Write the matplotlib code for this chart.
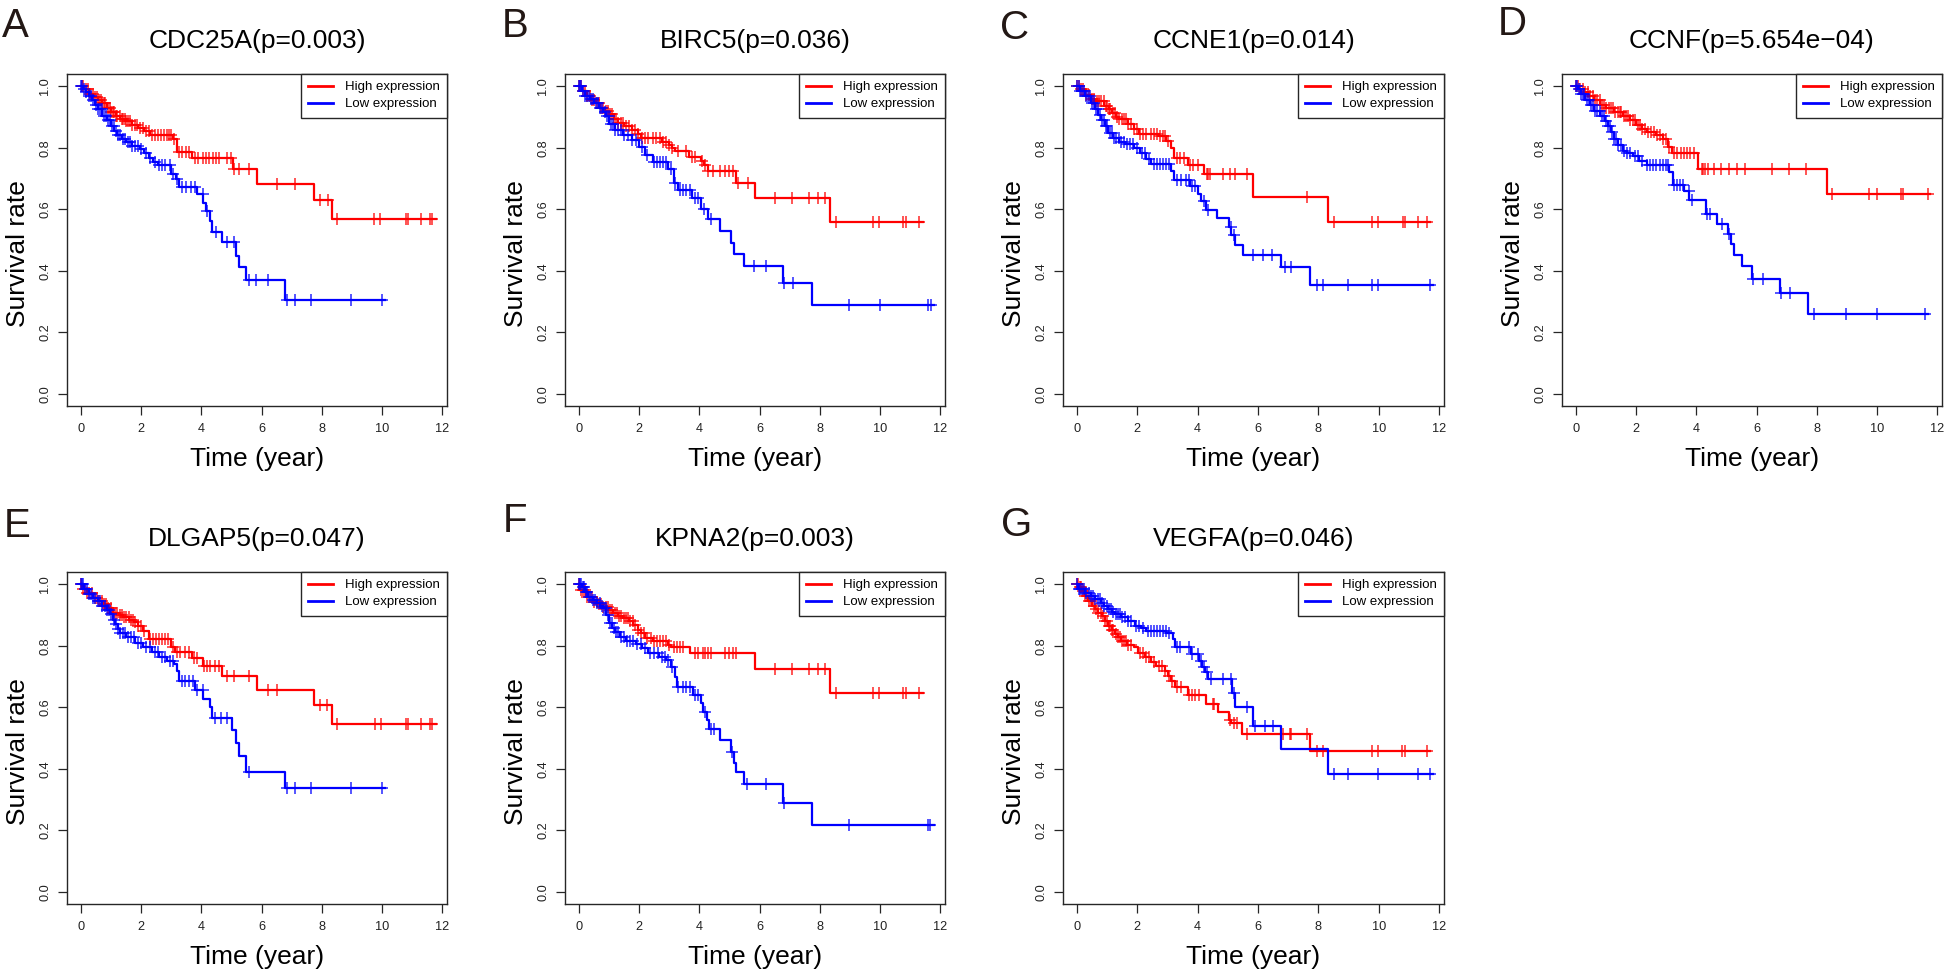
import numpy as np
import matplotlib
matplotlib.use("Agg")
import matplotlib.pyplot as plt

plt.rcParams['font.family'] = ['Liberation Sans', 'DejaVu Sans']

# ---------------- data ----------------
panel_letters = ["A", "B", "C", "D", "E", "F", "G"]
genes = ["CDC25A", "BIRC5", "CCNE1", "CCNF", "DLGAP5", "KPNA2", "VEGFA"]
pvalues = ["0.003", "0.036", "0.014", "5.654e\u221204", "0.047", "0.003", "0.046"]
legend_labels = ["High expression", "Low expression"]
x_ticks = [0, 2, 4, 6, 8, 10, 12]
y_ticks = [0.0, 0.2, 0.4, 0.6, 0.8, 1.0]
y_tick_labels = ["0.0", "0.2", "0.4", "0.6", "0.8", "1.0"]

# Panel A: CDC25A
a_high_t = [0, 0.1, 0.25, 0.4, 0.55, 0.7, 0.85, 1.0, 1.15, 1.3, 1.5, 1.7, 1.9, 2.1, 2.3, 3.05, 3.2, 3.7, 5.05, 5.85, 7.73, 8.34, 11.8]
a_high_s = [1.0, 0.99, 0.975, 0.965, 0.955, 0.945, 0.93, 0.915, 0.905, 0.895, 0.887, 0.875, 0.865, 0.855, 0.843, 0.83, 0.787, 0.766, 0.73, 0.683, 0.629, 0.567, 0.567]
a_high_c = [0.02, 0.08, 0.15, 0.22, 0.3, 0.38, 0.45, 0.52, 0.58, 0.65, 0.7, 0.75, 0.8, 0.88, 0.95, 1.0, 1.05, 1.1, 1.15, 1.2, 1.28, 1.35, 1.4, 1.45, 1.5, 1.55, 1.62, 1.7, 1.78, 1.85, 1.95, 2.05, 2.15, 2.25, 2.35, 2.45, 2.55, 2.65, 2.75, 2.85, 2.92, 3.0, 3.1, 3.25, 3.35, 3.5, 3.6, 3.8, 3.9, 4.05, 4.15, 4.25, 4.4, 4.5, 4.6, 4.85, 5.0, 5.1, 5.25, 5.6, 6.5, 7.1, 7.95, 8.2, 8.52, 9.75, 9.95, 10.8, 10.88, 11.3, 11.6, 11.68]
a_low_t = [0, 0.05, 0.15, 0.25, 0.35, 0.45, 0.55, 0.7, 0.85, 1.0, 1.1, 1.2, 1.35, 1.5, 1.7, 1.95, 2.1, 2.25, 2.4, 2.55, 3.0, 3.15, 3.25, 3.85, 4.07, 4.15, 4.28, 4.34, 4.67, 5.15, 5.24, 5.5, 6.78, 10.1]
a_low_s = [1.0, 0.99, 0.98, 0.97, 0.955, 0.94, 0.925, 0.905, 0.89, 0.87, 0.855, 0.84, 0.83, 0.818, 0.806, 0.795, 0.782, 0.768, 0.755, 0.744, 0.715, 0.70, 0.674, 0.65, 0.62, 0.594, 0.561, 0.527, 0.492, 0.448, 0.411, 0.37, 0.306, 0.306]
a_low_c = [0.0, 0.04, 0.1, 0.18, 0.26, 0.32, 0.4, 0.48, 0.55, 0.62, 0.68, 0.75, 0.82, 0.9, 0.95, 1.02, 1.08, 1.15, 1.22, 1.3, 1.38, 1.45, 1.55, 1.62, 1.7, 1.8, 1.9, 2.0, 2.15, 2.3, 2.45, 2.6, 2.7, 2.8, 2.95, 3.05, 3.2, 3.35, 3.5, 3.65, 3.8, 4.05, 4.2, 4.5, 4.85, 5.1, 5.6, 5.83, 6.2, 6.85, 7.11, 7.64, 8.97, 9.99]

# Panel B: BIRC5
b_high_t = [0, 0.1, 0.25, 0.4, 0.55, 0.7, 0.85, 1.0, 1.15, 1.3, 1.5, 1.75, 1.95, 2.05, 2.75, 3.0, 3.1, 3.2, 3.65, 4.05, 4.17, 4.28, 5.22, 5.86, 8.33, 11.42]
b_high_s = [1.0, 0.985, 0.97, 0.955, 0.945, 0.93, 0.92, 0.91, 0.895, 0.88, 0.87, 0.857, 0.845, 0.832, 0.82, 0.81, 0.80, 0.79, 0.77, 0.757, 0.745, 0.725, 0.687, 0.638, 0.558, 0.558]
b_high_c = [0.0, 0.06, 0.12, 0.2, 0.28, 0.35, 0.42, 0.5, 0.58, 0.65, 0.72, 0.8, 0.88, 0.95, 1.02, 1.08, 1.15, 1.22, 1.3, 1.38, 1.45, 1.55, 1.65, 1.75, 1.85, 1.95, 2.1, 2.2, 2.3, 2.45, 2.55, 2.7, 2.8, 2.9, 3.0, 3.1, 3.3, 3.55, 3.75, 3.85, 4.1, 4.2, 4.3, 4.45, 4.67, 4.85, 5.0, 5.11, 5.3, 5.61, 6.5, 7.09, 7.66, 7.94, 8.19, 8.55, 9.76, 9.96, 10.78, 10.87, 11.31]
b_low_t = [0, 0.1, 0.2, 0.35, 0.5, 0.65, 0.8, 0.9, 1.0, 1.2, 1.45, 1.75, 2.0, 2.2, 2.45, 2.95, 3.15, 3.3, 3.75, 4.05, 4.3, 4.67, 5.04, 5.15, 5.48, 6.78, 7.74, 11.81]
b_low_s = [1.0, 0.985, 0.97, 0.96, 0.945, 0.93, 0.915, 0.905, 0.878, 0.857, 0.841, 0.825, 0.803, 0.776, 0.753, 0.73, 0.685, 0.663, 0.637, 0.602, 0.567, 0.529, 0.491, 0.454, 0.414, 0.36, 0.289, 0.289]
b_low_c = [0.0, 0.03, 0.08, 0.14, 0.2, 0.27, 0.33, 0.4, 0.47, 0.55, 0.62, 0.7, 0.77, 0.85, 0.92, 0.98, 1.05, 1.12, 1.2, 1.28, 1.38, 1.5, 1.62, 1.75, 1.9, 2.1, 2.25, 2.5, 2.6, 2.7, 2.8, 2.9, 3.05, 3.2, 3.35, 3.45, 3.55, 3.7, 3.85, 3.95, 4.15, 4.4, 5.83, 6.2, 6.83, 7.13, 8.97, 9.99, 11.59, 11.7]

# Panel C: CCNE1
c_high_t = [0, 0.1, 0.25, 0.45, 0.6, 0.9, 1.05, 1.15, 1.3, 1.4, 1.7, 1.9, 2.05, 2.7, 2.95, 3.1, 3.22, 3.68, 4.22, 5.84, 8.33, 11.7]
c_high_s = [1.0, 0.99, 0.973, 0.96, 0.951, 0.935, 0.925, 0.914, 0.9, 0.892, 0.876, 0.86, 0.846, 0.838, 0.822, 0.80, 0.768, 0.744, 0.714, 0.639, 0.559, 0.559]
c_high_c = [0.0, 0.05, 0.12, 0.2, 0.3, 0.38, 0.48, 0.55, 0.65, 0.72, 0.8, 0.88, 0.95, 1.0, 1.05, 1.1, 1.18, 1.25, 1.32, 1.4, 1.48, 1.55, 1.62, 1.7, 1.8, 1.9, 2.0, 2.1, 2.2, 2.3, 2.45, 2.55, 2.65, 2.75, 2.85, 2.92, 3.0, 3.3, 3.4, 3.55, 3.75, 3.85, 4.0, 4.3, 4.35, 4.42, 4.85, 5.07, 5.23, 5.62, 7.64, 8.53, 9.77, 9.99, 10.8, 10.87, 11.29, 11.59]
c_low_t = [0, 0.1, 0.25, 0.45, 0.6, 0.7, 0.8, 0.92, 1.03, 1.2, 1.4, 1.6, 1.9, 2.1, 2.3, 2.45, 3.1, 3.22, 3.75, 4.0, 4.12, 4.28, 4.65, 5.05, 5.12, 5.23, 5.49, 6.76, 7.72, 11.81]
c_low_s = [1.0, 0.985, 0.968, 0.946, 0.925, 0.908, 0.89, 0.87, 0.849, 0.833, 0.82, 0.811, 0.80, 0.784, 0.763, 0.746, 0.725, 0.695, 0.676, 0.649, 0.626, 0.599, 0.572, 0.542, 0.515, 0.484, 0.452, 0.412, 0.353, 0.353]
c_low_c = [0.0, 0.05, 0.1, 0.16, 0.22, 0.3, 0.36, 0.42, 0.5, 0.56, 0.62, 0.68, 0.75, 0.82, 0.88, 0.95, 1.0, 1.08, 1.15, 1.22, 1.3, 1.38, 1.45, 1.55, 1.65, 1.75, 1.85, 2.0, 2.15, 2.25, 2.4, 2.55, 2.65, 2.75, 2.85, 2.95, 3.05, 3.3, 3.45, 3.6, 3.7, 3.82, 3.92, 4.2, 4.35, 5.1, 5.2, 5.84, 6.17, 6.45, 6.89, 7.11, 7.94, 8.16, 8.97, 9.77, 9.99, 11.7]

# Panel D: CCNF
d_high_t = [0, 0.1, 0.25, 0.4, 0.6, 0.8, 1.0, 1.25, 1.55, 1.8, 2.0, 2.2, 2.35, 2.65, 2.9, 3.05, 3.18, 4.07, 8.33, 11.76]
d_high_s = [1.0, 0.99, 0.98, 0.968, 0.955, 0.938, 0.928, 0.916, 0.905, 0.889, 0.873, 0.862, 0.852, 0.841, 0.83, 0.803, 0.782, 0.731, 0.649, 0.649]
d_high_c = [0.0, 0.06, 0.14, 0.22, 0.3, 0.38, 0.46, 0.55, 0.62, 0.7, 0.78, 0.85, 0.92, 1.0, 1.08, 1.15, 1.22, 1.3, 1.38, 1.45, 1.5, 1.58, 1.65, 1.72, 1.8, 1.88, 1.95, 2.05, 2.12, 2.2, 2.3, 2.4, 2.5, 2.6, 2.7, 2.8, 2.9, 3.0, 3.1, 3.25, 3.35, 3.5, 3.6, 3.7, 3.8, 3.92, 4.18, 4.22, 4.3, 4.4, 4.57, 4.81, 5.07, 5.34, 5.62, 6.5, 7.09, 7.64, 8.52, 9.75, 9.99, 10.79, 10.87, 11.7]
d_low_t = [0, 0.05, 0.15, 0.3, 0.45, 0.6, 0.8, 0.95, 1.05, 1.15, 1.25, 1.4, 1.55, 1.7, 1.9, 2.1, 2.35, 3.1, 3.22, 3.6, 3.77, 4.31, 4.68, 5.05, 5.15, 5.25, 5.51, 5.86, 6.78, 7.72, 11.7]
d_low_s = [1.0, 0.99, 0.975, 0.955, 0.94, 0.921, 0.905, 0.888, 0.87, 0.85, 0.83, 0.81, 0.79, 0.782, 0.774, 0.757, 0.744, 0.72, 0.68, 0.658, 0.631, 0.583, 0.551, 0.518, 0.486, 0.451, 0.414, 0.373, 0.327, 0.26, 0.26]
d_low_c = [0.0, 0.04, 0.1, 0.16, 0.22, 0.28, 0.35, 0.42, 0.5, 0.55, 0.62, 0.7, 0.78, 0.85, 0.92, 1.0, 1.05, 1.12, 1.18, 1.25, 1.32, 1.4, 1.48, 1.6, 1.7, 1.8, 1.95, 2.05, 2.2, 2.35, 2.45, 2.55, 2.65, 2.8, 2.9, 3.0, 3.05, 3.25, 3.35, 3.45, 3.55, 3.75, 3.85, 4.35, 4.45, 4.85, 5.1, 5.87, 6.2, 6.83, 7.11, 7.92, 8.97, 9.99, 11.59]

# Panel E: DLGAP5
e_high_t = [0, 0.02, 0.2, 0.4, 0.6, 0.75, 0.9, 1.05, 1.25, 1.4, 1.6, 1.75, 1.9, 2.05, 2.25, 3.0, 3.12, 3.68, 4.06, 4.67, 5.85, 7.73, 8.34, 11.81]
e_high_s = [1.0, 0.985, 0.972, 0.957, 0.945, 0.935, 0.922, 0.908, 0.9, 0.892, 0.884, 0.876, 0.864, 0.849, 0.822, 0.795, 0.781, 0.759, 0.735, 0.701, 0.657, 0.606, 0.544, 0.544]
e_high_c = [0.0, 0.06, 0.12, 0.2, 0.28, 0.36, 0.45, 0.52, 0.6, 0.68, 0.75, 0.82, 0.9, 0.98, 1.05, 1.12, 1.2, 1.28, 1.35, 1.42, 1.5, 1.58, 1.65, 1.72, 1.8, 1.9, 2.0, 2.1, 2.3, 2.4, 2.5, 2.6, 2.7, 2.8, 2.9, 3.05, 3.2, 3.3, 3.45, 3.6, 3.75, 3.85, 4.1, 4.2, 4.3, 4.45, 4.6, 4.85, 5.1, 5.6, 6.2, 6.5, 7.95, 8.18, 8.52, 9.76, 9.96, 10.79, 10.87, 11.29, 11.59, 11.67]
e_low_t = [0, 0.1, 0.25, 0.4, 0.55, 0.7, 0.85, 0.96, 1.05, 1.13, 1.22, 1.3, 1.5, 1.8, 2.05, 2.35, 2.6, 2.85, 3.1, 3.18, 3.25, 3.79, 4.06, 4.28, 4.34, 5.03, 5.14, 5.25, 5.5, 6.78, 10.1]
e_low_s = [1.0, 0.985, 0.97, 0.957, 0.945, 0.93, 0.915, 0.903, 0.885, 0.87, 0.855, 0.843, 0.827, 0.808, 0.795, 0.779, 0.762, 0.752, 0.741, 0.719, 0.685, 0.657, 0.627, 0.6, 0.565, 0.525, 0.484, 0.441, 0.39, 0.336, 0.336]
e_low_c = [0.0, 0.03, 0.08, 0.14, 0.2, 0.26, 0.32, 0.4, 0.47, 0.55, 0.62, 0.7, 0.78, 0.85, 0.92, 1.0, 1.08, 1.15, 1.22, 1.3, 1.38, 1.45, 1.55, 1.65, 1.75, 1.9, 2.0, 2.15, 2.3, 2.45, 2.55, 2.7, 2.8, 2.95, 3.05, 3.35, 3.45, 3.6, 3.72, 3.85, 4.05, 4.45, 4.65, 4.85, 5.6, 6.85, 7.11, 7.64, 8.97, 9.99]

# Panel F: KPNA2
f_high_t = [0, 0.01, 0.24, 0.47, 0.65, 0.8, 1.0, 1.13, 1.3, 1.46, 1.65, 1.79, 1.95, 2.05, 2.2, 2.45, 2.95, 3.07, 3.68, 5.86, 8.33, 11.42]
f_high_s = [1.0, 0.982, 0.96, 0.944, 0.935, 0.925, 0.915, 0.906, 0.898, 0.89, 0.88, 0.868, 0.85, 0.84, 0.824, 0.814, 0.803, 0.795, 0.776, 0.726, 0.646, 0.646]
f_high_c = [0.0, 0.05, 0.12, 0.2, 0.28, 0.35, 0.42, 0.5, 0.58, 0.65, 0.72, 0.8, 0.88, 0.95, 1.02, 1.1, 1.18, 1.25, 1.32, 1.4, 1.48, 1.55, 1.62, 1.7, 1.78, 1.85, 1.95, 2.05, 2.15, 2.25, 2.4, 2.5, 2.6, 2.7, 2.8, 2.9, 3.0, 3.15, 3.25, 3.35, 3.45, 3.84, 3.95, 4.12, 4.2, 4.3, 4.4, 4.84, 5.0, 5.11, 5.22, 6.5, 7.09, 7.66, 7.94, 8.19, 8.55, 9.76, 9.96, 10.78, 10.87, 11.31]
f_low_t = [0, 0.1, 0.2, 0.3, 0.45, 0.58, 0.7, 0.8, 0.91, 1.0, 1.1, 1.18, 1.35, 1.55, 1.9, 2.1, 2.3, 2.65, 2.9, 3.05, 3.18, 3.25, 3.79, 4.06, 4.12, 4.25, 4.33, 4.67, 5.04, 5.15, 5.23, 5.48, 6.78, 7.74, 11.81]
f_low_s = [1.0, 0.99, 0.975, 0.96, 0.948, 0.938, 0.93, 0.922, 0.9, 0.873, 0.858, 0.845, 0.83, 0.817, 0.806, 0.792, 0.776, 0.765, 0.754, 0.732, 0.7, 0.665, 0.64, 0.613, 0.586, 0.559, 0.529, 0.494, 0.456, 0.42, 0.388, 0.35, 0.29, 0.218, 0.218]
f_low_c = [0.0, 0.03, 0.07, 0.12, 0.17, 0.22, 0.28, 0.34, 0.4, 0.46, 0.52, 0.6, 0.68, 0.75, 0.82, 0.9, 0.95, 1.02, 1.08, 1.15, 1.22, 1.3, 1.4, 1.5, 1.6, 1.7, 1.8, 1.92, 2.05, 2.2, 2.35, 2.5, 2.62, 2.75, 2.85, 2.95, 3.1, 3.3, 3.45, 3.55, 3.7, 3.85, 3.95, 4.2, 4.4, 4.5, 5.1, 5.6, 6.22, 6.83, 8.97, 11.59, 11.68]

# Panel G: VEGFA
g_high_t = [0, 0.05, 0.14, 0.25, 0.37, 0.5, 0.59, 0.7, 0.81, 0.92, 1.03, 1.15, 1.25, 1.35, 1.47, 1.65, 1.9, 2.02, 2.25, 2.45, 2.63, 2.9, 3.02, 3.13, 3.24, 3.68, 4.27, 4.68, 5.03, 5.1, 5.48, 7.72, 11.7]
g_high_s = [1.0, 0.99, 0.978, 0.962, 0.946, 0.93, 0.919, 0.908, 0.897, 0.88, 0.865, 0.85, 0.838, 0.827, 0.816, 0.803, 0.795, 0.775, 0.762, 0.746, 0.735, 0.719, 0.703, 0.686, 0.665, 0.641, 0.611, 0.584, 0.557, 0.55, 0.514, 0.457, 0.457]
g_high_c = [0.0, 0.03, 0.08, 0.13, 0.2, 0.26, 0.32, 0.4, 0.47, 0.55, 0.62, 0.7, 0.78, 0.85, 0.92, 0.98, 1.05, 1.1, 1.15, 1.2, 1.28, 1.35, 1.42, 1.5, 1.55, 1.62, 1.7, 1.8, 2.1, 2.2, 2.3, 2.4, 2.55, 2.7, 2.8, 2.9, 3.05, 3.15, 3.3, 3.45, 3.7, 3.8, 3.9, 4.05, 4.5, 4.55, 5.07, 5.2, 5.3, 5.62, 6.84, 7.06, 7.11, 7.64, 7.94, 8.16, 9.77, 9.99, 10.77, 10.87, 11.6]
g_low_t = [0, 0.03, 0.25, 0.45, 0.59, 0.8, 0.9, 1.03, 1.15, 1.25, 1.47, 1.69, 1.91, 2.13, 2.3, 2.96, 3.19, 3.24, 3.79, 4.04, 4.13, 4.24, 4.35, 5.14, 5.23, 5.84, 6.76, 8.33, 11.81]
g_low_s = [1.0, 0.985, 0.973, 0.962, 0.951, 0.94, 0.93, 0.919, 0.91, 0.903, 0.894, 0.881, 0.865, 0.857, 0.849, 0.84, 0.822, 0.797, 0.773, 0.749, 0.73, 0.714, 0.692, 0.646, 0.6, 0.539, 0.463, 0.384, 0.384]
g_low_c = [0.0, 0.05, 0.1, 0.16, 0.22, 0.3, 0.38, 0.45, 0.52, 0.6, 0.68, 0.75, 0.82, 0.9, 0.98, 1.05, 1.12, 1.2, 1.28, 1.35, 1.42, 1.5, 1.6, 1.7, 1.8, 1.95, 2.05, 2.2, 2.35, 2.45, 2.55, 2.65, 2.75, 2.85, 2.95, 3.05, 3.3, 3.4, 3.7, 3.8, 4.0, 4.1, 4.2, 4.3, 4.43, 4.85, 5.1, 5.2, 5.62, 5.9, 6.23, 6.51, 8.53, 8.97, 9.99, 11.29, 11.7]

panels = [
    (a_high_t, a_high_s, a_high_c, a_low_t, a_low_s, a_low_c),
    (b_high_t, b_high_s, b_high_c, b_low_t, b_low_s, b_low_c),
    (c_high_t, c_high_s, c_high_c, c_low_t, c_low_s, c_low_c),
    (d_high_t, d_high_s, d_high_c, d_low_t, d_low_s, d_low_c),
    (e_high_t, e_high_s, e_high_c, e_low_t, e_low_s, e_low_c),
    (f_high_t, f_high_s, f_high_c, f_low_t, f_low_s, f_low_c),
    (g_high_t, g_high_s, g_high_c, g_low_t, g_low_s, g_low_c),
]

# ---------------- layout ----------------
W, H = 1946, 973
fig = plt.figure(figsize=(W / 100, H / 100), dpi=100)

col_x = [(67, 447), (565, 945), (1063, 1444), (1562, 1942)]
row_y = [(74, 406), (572, 904)]
letter_pos = [(2, 37), (502, 37), (1000, 39), (1498, 35), (4, 537), (503, 532), (1001, 536)]

RED = "#ff0000"
BLUE = "#0000ff"
EDGE = "#262626"


def step_value(t, s, c):
    t = np.asarray(t)
    s = np.asarray(s)
    idx = np.searchsorted(t, np.asarray(c), side="right") - 1
    idx = np.clip(idx, 0, len(s) - 1)
    return s[idx]


for i, (ht, hs, hc, lt, ls, lc) in enumerate(panels):
    r, cidx = divmod(i, 4)
    x0, x1 = col_x[cidx]
    y0, y1 = row_y[r]
    ax = fig.add_axes([x0 / W, 1 - y1 / H, (x1 - x0) / W, (y1 - y0) / H])

    for t, s, c, col, lab in [(ht, hs, hc, RED, legend_labels[0]),
                               (lt, ls, lc, BLUE, legend_labels[1])]:
        ax.step(t, s, where="post", color=col, lw=1.6, label=lab)
        ax.plot(c, step_value(t, s, c), ls="none", marker="+", ms=8,
                mew=1.1, color=col, alpha=0.85)

    ax.set_xlim(-0.468, 12.168)
    ax.set_ylim(-0.04, 1.04)
    ax.set_xticks(x_ticks)
    ax.set_xticklabels([str(v) for v in x_ticks])
    ax.set_yticks(y_ticks)
    ax.set_yticklabels(y_tick_labels, rotation=90, va="center")
    ax.tick_params(axis="both", direction="out", length=6.5, width=0.9,
                   color=EDGE, labelsize=9.2, labelcolor="#222222")
    ax.tick_params(axis="x", pad=6)
    ax.tick_params(axis="y", pad=5)
    for sp in ax.spines.values():
        sp.set_color(EDGE)
        sp.set_linewidth(1.0)

    ax.set_xlabel("Time (year)", fontsize=19, va="baseline")
    ax.xaxis.set_label_coords(0.5, -0.18)
    ax.set_ylabel("Survival rate", fontsize=19, va="center")
    ax.yaxis.set_label_coords(-0.128, 0.46)

    ax.text(0.5, 1.077, f"{genes[i]}(p={pvalues[i]})", transform=ax.transAxes,
            ha="center", va="baseline", fontsize=19)

    leg = ax.legend(loc="upper right", borderaxespad=0, fontsize=9.5,
                    handlelength=1.9, handletextpad=0.9, labelspacing=0.35,
                    borderpad=0.55, fancybox=False, framealpha=1)
    leg.get_frame().set_edgecolor(EDGE)
    leg.get_frame().set_linewidth(1.0)
    for lh in leg.get_lines():
        lh.set_linewidth(2.0)

    lx, ly = letter_pos[i]
    fig.text(lx / W, 1 - ly / H, panel_letters[i], fontsize=29,
             ha="left", va="baseline", color="#231815")

fig.savefig("out.png", dpi=100)
